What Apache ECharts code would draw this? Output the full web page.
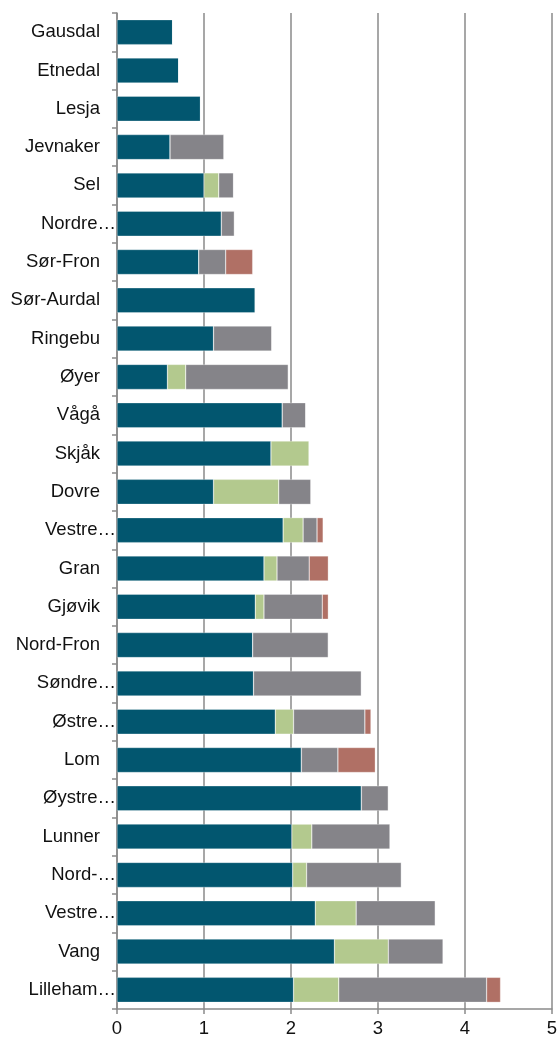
<!DOCTYPE html>
<html>
<head>
<meta charset="utf-8">
<script src="https://cdn.jsdelivr.net/npm/echarts@6/dist/echarts.min.js"></script>
<style>html,body{margin:0;padding:0;background:#fff}#c{width:560px;height:1038px}</style>
</head>
<body>
<div id="c"></div>
<script>
const categories = ["Gausdal","Etnedal","Lesja","Jevnaker","Sel","Nordre…","Sør-Fron","Sør-Aurdal","Ringebu","Øyer","Vågå","Skjåk","Dovre","Vestre…","Gran","Gjøvik","Nord-Fron","Søndre…","Østre…","Lom","Øystre…","Lunner","Nord-…","Vestre…","Vang","Lilleham…"];
const seriesA = [0.64,0.71,0.96,0.61,1.00,1.20,0.94,1.59,1.11,0.58,1.90,1.77,1.11,1.91,1.69,1.59,1.56,1.57,1.82,2.12,2.81,2.01,2.02,2.28,2.50,2.03];
const seriesB = [0,0,0,0,0.17,0,0,0,0,0.21,0,0.44,0.75,0.23,0.15,0.10,0,0,0.21,0,0,0.23,0.16,0.47,0.62,0.52];
const seriesC = [0,0,0,0.62,0.17,0.15,0.31,0,0.67,1.18,0.27,0,0.37,0.16,0.37,0.67,0.87,1.24,0.82,0.42,0.31,0.90,1.09,0.91,0.63,1.70];
const seriesD = [0,0,0,0,0,0,0.31,0,0,0,0,0,0,0.07,0.22,0.07,0,0,0.07,0.43,0,0,0,0,0,0.16];
const xTicks = [0,1,2,3,4,5];

const colors = ['#02566f','#b3c98e','#858489','#b07065'];
const names = ['A','B','C','D'];
const data = [seriesA, seriesB, seriesC, seriesD];

const chart = echarts.init(document.getElementById('c'), null, {renderer:'canvas'});
const font = '"Liberation Sans", Arial, sans-serif';
const fs = 18.5;
chart.setOption({
  animation: false,
  grid: {left: 117, right: 7, top: 13, bottom: 28, containLabel: false},
  xAxis: {
    type: 'value', min: xTicks[0], max: xTicks[xTicks.length-1], interval: 1,
    axisLine: {show: true, lineStyle: {color: '#8a8a8a', width: 1.5}},
    axisTick: {show: true, length: 5, lineStyle: {color: '#8a8a8a', width: 1.5}},
    axisLabel: {color: '#111', fontSize: fs, fontFamily: font, margin: 10},
    splitLine: {show: true, lineStyle: {color: '#8a8a8a', width: 1.5}}
  },
  yAxis: {
    type: 'category', data: categories, inverse: true,
    axisLine: {show: true, lineStyle: {color: '#8a8a8a', width: 1.5}},
    axisTick: {show: true, length: 5, lineStyle: {color: '#8a8a8a', width: 1.5}},
    axisLabel: {
      margin: 1, color: '#111', fontSize: fs, fontFamily: font,
      formatter: function (v) { return v.endsWith('…') ? '{t|' + v + '}' : '{n|' + v + '}'; },
      rich: {
        n: {fontSize: fs, fontFamily: font, color: '#111', padding: [0, 16, 0, 0]},
        t: {fontSize: fs, fontFamily: font, color: '#111', padding: [0, 0, 0, 0]}
      }
    },
    splitLine: {show: false}
  },
  series: data.map((d, i) => ({
    name: names[i], type: 'bar', stack: 'total', data: d,
    barWidth: 25,
    itemStyle: {color: colors[i], borderColor: 'rgba(255,255,255,0.6)', borderWidth: 0.5},
    emphasis: {disabled: true}
  }))
});
</script>
</body>
</html>
